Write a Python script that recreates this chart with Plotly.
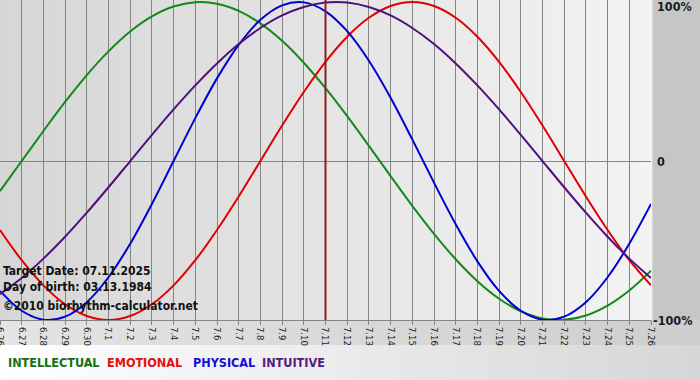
import plotly.graph_objects as go

# ---- data ----
dates = ["6.26", "6.27", "6.28", "6.29", "6.30", "7.1", "7.2", "7.3", "7.4", "7.5",
         "7.6", "7.7", "7.8", "7.9", "7.10", "7.11", "7.12", "7.13", "7.14", "7.15",
         "7.16", "7.17", "7.18", "7.19", "7.20", "7.21", "7.22", "7.23", "7.24", "7.25", "7.26"]

intellectual = [-18.9, 0.0, 18.9, 37.2, 54.1, 69.0, 81.5, 91.0, 97.2, 99.9,
                99.0, 94.5, 86.6, 75.6, 61.8, 45.8, 28.2, 9.5, -9.5, -28.2,
                -45.8, -61.8, -75.6, -86.6, -94.5, -99.0, -99.9, -97.2, -91.0, -81.5, -69.0]

emotional = [-43.4, -62.4, -78.2, -90.1, -97.5, -100.0, -97.5, -90.1, -78.2, -62.4,
             -43.4, -22.3, 0.0, 22.3, 43.4, 62.4, 78.2, 90.1, 97.5, 100.0,
             97.5, 90.1, 78.2, 62.4, 43.4, 22.3, 0.0, -22.3, -43.4, -62.4, -78.2]

physical = [-81.7, -94.2, -99.8, -97.9, -88.8, -73.1, -52.0, -27.0, 0.0, 27.0,
            52.0, 73.1, 88.8, 97.9, 99.8, 94.2, 81.7, 63.1, 39.8, 13.6,
            -13.6, -39.8, -63.1, -81.7, -94.2, -99.8, -97.9, -88.8, -73.1, -52.0, -27.0]

intuitive = [-83.7, -73.6, -61.4, -47.6, -32.5, -16.5, 0.0, 16.5, 32.5, 47.6,
             61.4, 73.6, 83.7, 91.6, 96.9, 99.7, 99.7, 96.9, 91.6, 83.7,
             73.6, 61.4, 47.6, 32.5, 16.5, 0.0, -16.5, -32.5, -47.6, -61.4, -73.6]

target_label = "7.11"
y_ticks = [100, 0, -100]
y_tick_text = ["100%", "0", "-100%"]
info_lines = ["Target Date: 07.11.2025", "Day of birth: 03.13.1984", "\u00a92010 biorhythm-calculator.net"]
legend_names = ["INTELLECTUAL", "EMOTIONAL", "PHYSICAL", "INTUITIVE"]

# ---- styling ----
W, H = 700, 380
L, R, T, B = 0, 49, 0, 60
PW, PH = W - L - R, H - T - B
line_colors = ["#14881a", "#e00000", "#0000d0", "#4e1080"]
legend_colors = ["#157015", "#e01010", "#1010d0", "#501a80"]
FONT = "DejaVu Sans Condensed"


def px_x(px):
    return (px - L) / PW


def px_y(py):
    return (H - B - py) / PH


def mix(c0, c1, t):
    v = [round(a + (b - a) * t) for a, b in zip(c0, c1)]
    return "rgb(%d,%d,%d)" % tuple(v)


shapes = []
N = 60
# plot area gradient
for k in range(N):
    shapes.append(dict(type="rect", xref="paper", yref="paper",
                       x0=k / N, x1=(k + 1) / N + 0.002, y0=0, y1=1,
                       fillcolor=mix((214, 214, 214), (243, 243, 243), (k + 0.5) / N),
                       line=dict(width=0), layer="below"))
# bottom tick strip gradient
for k in range(N):
    x0 = k / N * W
    x1 = (k + 1) / N * W + 1
    shapes.append(dict(type="rect", xref="paper", yref="paper",
                       x0=px_x(x0), x1=px_x(x1), y0=px_y(345), y1=px_y(320),
                       fillcolor=mix((228, 228, 228), (206, 206, 206), (k + 0.5) / N),
                       line=dict(width=0), layer="below"))
# legend strip gradient
for k in range(N):
    x0 = k / N * W
    x1 = (k + 1) / N * W + 1
    shapes.append(dict(type="rect", xref="paper", yref="paper",
                       x0=px_x(x0), x1=px_x(x1), y0=px_y(381), y1=px_y(345),
                       fillcolor=mix((255, 255, 255), (214, 214, 214), (k + 0.5) / N),
                       line=dict(width=0), layer="below"))

# target date marker
ti = dates.index(target_label)
shapes.append(dict(type="line", xref="x", yref="paper", x0=ti, x1=ti,
                   y0=0, y1=1, line=dict(color="#8b2020", width=2), layer="above"))

fig = go.Figure()
for name, vals, col in zip(legend_names, [intellectual, emotional, physical, intuitive], line_colors):
    fig.add_trace(go.Scatter(x=dates, y=vals, mode="lines", name=name,
                             line=dict(color=col, width=2, shape="spline", smoothing=1.0),
                             hoverinfo="skip"))

annotations = []
# right-side percentage labels
for v, t in zip(y_ticks, y_tick_text):
    yy = 97 if v == 100 else v
    annotations.append(dict(xref="paper", yref="y", x=px_x(655 if v != -100 else 651), y=yy,
                            text="<b>%s</b>" % t, showarrow=False, xanchor="left", yanchor="middle",
                            font=dict(family=FONT, size=12.5, color="#1a1a1a")))
# info text
for t, py in zip(info_lines, [271, 287, 306]):
    annotations.append(dict(xref="paper", yref="paper", x=px_x(1), y=px_y(py),
                            text="<b>%s</b>" % t, showarrow=False, xanchor="left", yanchor="middle",
                            font=dict(family=FONT, size=12, color="#111111")))
# legend
for t, c, px in zip(legend_names, legend_colors, [6, 105, 191, 260]):
    annotations.append(dict(xref="paper", yref="paper", x=px_x(px), y=px_y(362),
                            text="<b>%s</b>" % t, showarrow=False, xanchor="left", yanchor="middle",
                            font=dict(family=FONT, size=12.5, color=c)))

fig.update_layout(
    width=W, height=H,
    margin=dict(l=L, r=R, t=T, b=B, pad=0, autoexpand=False),
    paper_bgcolor="#c6c6c6",
    plot_bgcolor="rgba(0,0,0,0)",
    showlegend=False,
    shapes=shapes,
    annotations=annotations,
    xaxis=dict(type="category", range=[0, len(dates) - 1], automargin=False,
               showgrid=True, gridcolor="#858585", gridwidth=1,
               showline=True, linecolor="#858585", linewidth=1,
               ticks="outside", ticklen=4, tickcolor="#858585", tickangle=90,
               tickfont=dict(family=FONT, size=9.5, color="#1e1e1e"), fixedrange=True),
    yaxis=dict(range=[-100, 101.3], automargin=False, showgrid=False, zeroline=True,
               zerolinecolor="#858585", zerolinewidth=1, showticklabels=False, ticks="",
               fixedrange=True),
)

fig.write_html("out.html", config={"displayModeBar": False},
               post_script="document.body.style.margin='0';document.body.style.padding='0';")
